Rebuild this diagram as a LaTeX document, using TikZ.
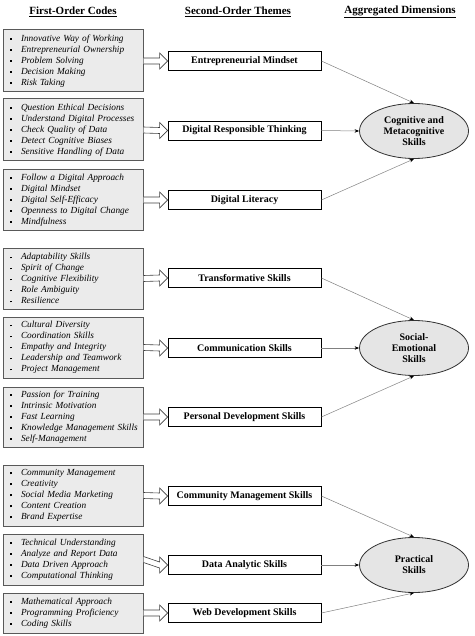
\documentclass[tikz,border=0pt]{standalone}
\usepackage{fontspec}
\setmainfont{Liberation Serif}
\usetikzlibrary{shapes.geometric,calc,arrows.meta}
\newcommand{\bl}{\makebox[15pt][l]{\hspace*{4pt}\raisebox{1.3pt}{\rule{1.8pt}{1.8pt}}}}
\newcommand{\hollowarrow}[2]{%
  \draw[hol] ($(#1.east)+(0,3)$) -- ($(#2.west)+(-8,3)$) -- ($(#2.west)+(-8,8)$) -- (#2.west)
   -- ($(#2.west)+(-8,-8)$) -- ($(#2.west)+(-8,-3)$) -- ($(#1.east)+(0,-3)$);}
\begin{document}
\begin{tikzpicture}[x=1pt,y=-1pt,
  hdr/.style={font=\fontsize{11}{12}\selectfont\bfseries, inner sep=0pt},
  lbox/.style={draw=black!65, line width=1pt, fill=black!8, minimum width=140pt,
     text width=134pt, inner xsep=3pt, inner ysep=0pt, align=left,
     font=\fontsize{9.3}{11}\selectfont\itshape},
  mbox/.style={draw=black, line width=0.8pt, fill=white, minimum width=153pt, minimum height=19pt,
     inner sep=0pt, font=\fontsize{10}{10}\selectfont\bfseries},
  dim/.style={ellipse, draw=black!80, line width=0.8pt, fill=black!10, minimum width=109pt,
     minimum height=55pt, inner sep=0pt, align=center, font=\fontsize{10}{11}\selectfont\bfseries},
  hol/.style={draw=black!75, line width=0.6pt, fill=white, line join=miter},
  conn/.style={draw=black!50, line width=0.5pt, -{Stealth[length=4.5pt,width=3.5pt,black]}}
]
\useasboundingbox (0,0) rectangle (474,636);

\node[hdr] (h1) at (73,12) {\underline{First-Order Codes}};
\node[hdr] (h2) at (238,12) {\underline{Second-Order Themes}};
\node[hdr] (h3) at (400,12) {\underline{Aggregated Dimensions}};

\node[lbox, minimum height=62pt] (l1) at (73,61) {\bl Innovative Way of Working\\\bl Entrepreneurial Ownership\\\bl Problem Solving\\\bl Decision Making\\\bl Risk Taking};
\node[lbox, minimum height=62pt] (l2) at (73,130) {\bl Question Ethical Decisions\\\bl Understand Digital Processes\\\bl Check Quality of Data\\\bl Detect Cognitive Biases\\\bl Sensitive Handling of Data};
\node[lbox, minimum height=61pt] (l3) at (73,200) {\bl Follow a Digital Approach\\\bl Digital Mindset\\\bl Digital Self-Efficacy\\\bl Openness to Digital Change\\\bl Mindfulness};
\node[lbox, minimum height=61pt] (l4) at (73,278.5) {\bl Adaptability Skills\\\bl Spirit of Change\\\bl Cognitive Flexibility\\\bl Role Ambiguity\\\bl Resilience};
\node[lbox, minimum height=61pt] (l5) at (73,347.5) {\bl Cultural Diversity\\\bl Coordination Skills\\\bl Empathy and Integrity\\\bl Leadership and Teamwork\\\bl Project Management};
\node[lbox, minimum height=60pt] (l6) at (73,417) {\bl Passion for Training\\\bl Intrinsic Motivation\\\bl Fast Learning\\\bl Knowledge Management Skills\\\bl Self-Management};
\node[lbox, minimum height=61pt] (l7) at (73,495.5) {\bl Community Management\\\bl Creativity\\\bl Social Media Marketing\\\bl Content Creation\\\bl Brand Expertise};
\node[lbox, minimum height=51pt] (l8) at (73,559.5) {\bl Technical Understanding\\\bl Analyze and Report Data\\\bl Data Driven Approach\\\bl Computational Thinking};
\node[lbox, minimum height=40pt] (l9) at (73,613) {\bl Mathematical Approach\\\bl Programming Proficiency\\\bl Coding Skills};

\node[mbox] (m1) at (244.5,61) {Entrepreneurial Mindset};
\node[mbox] (m2) at (244.5,130.5) {Digital Responsible Thinking};
\node[mbox] (m3) at (244.5,200) {Digital Literacy};
\node[mbox] (m4) at (244.5,278) {Transformative Skills};
\node[mbox] (m5) at (244.5,348) {Communication Skills};
\node[mbox] (m6) at (244.5,417) {Personal Development Skills};
\node[mbox] (m7) at (244.5,496) {Community Management Skills};
\node[mbox] (m8) at (244.5,565) {Data Analytic Skills};
\node[mbox] (m9) at (244.5,613) {Web Development Skills};

\node[dim] (e1) at (414,131) {Cognitive and\\Metacognitive\\Skills};
\node[dim] (e2) at (414,348) {Social-\\Emotional\\Skills};
\node[dim] (e3) at (414,565) {Practical\\Skills};

\foreach \i in {1,...,9}{\hollowarrow{l\i}{m\i}}

\draw[conn] (m1.east) -- (e1.north);
\draw[conn] (m2.east) -- (e1.west);
\draw[conn] (m3.east) -- (e1.south);
\draw[conn] (m4.east) -- (e2.north);
\draw[conn] (m5.east) -- (e2.west);
\draw[conn] (m6.east) -- (e2.south);
\draw[conn] (m7.east) -- (e3.north);
\draw[conn] (m8.east) -- (e3.west);
\draw[conn] (m9.east) -- (e3.south);
\end{tikzpicture}
\end{document}
